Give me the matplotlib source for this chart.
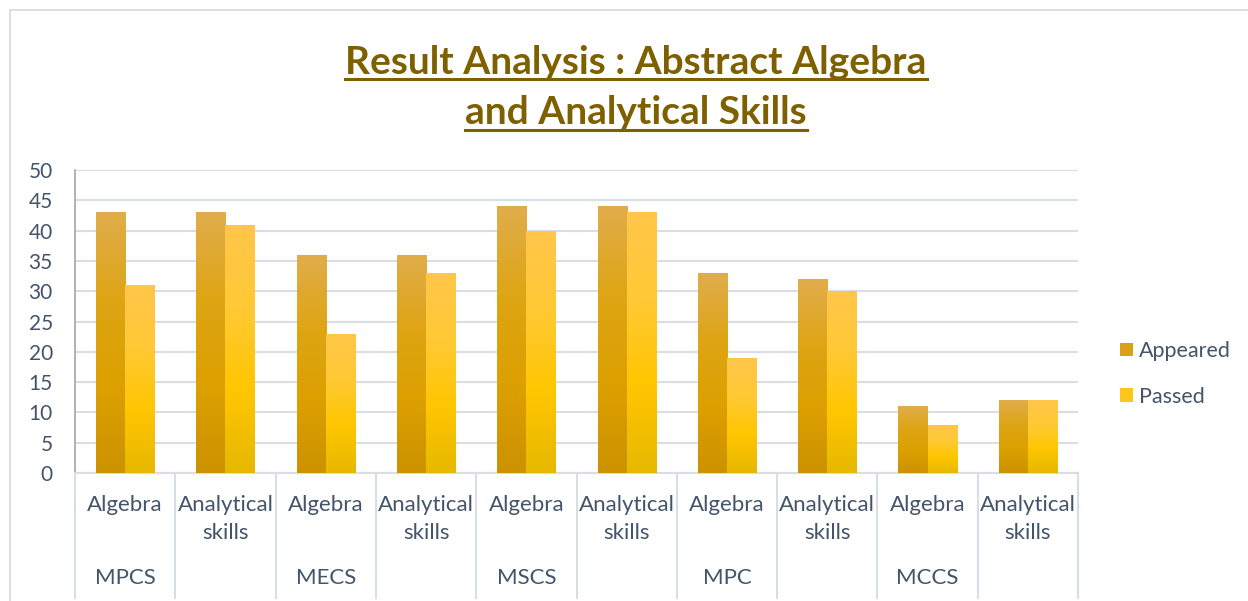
import numpy as np
import matplotlib
matplotlib.use("Agg")
import matplotlib.pyplot as plt
from matplotlib.colors import LinearSegmentedColormap
from matplotlib.patches import Patch, Rectangle
from matplotlib.lines import Line2D

# data
groups = ["MPCS", "MECS", "MSCS", "MPC", "MCCS"]
subjects = ["Algebra", "Analytical\nskills"]
appeared = [43, 43, 36, 36, 44, 44, 33, 32, 11, 12]
passed = [31, 41, 23, 33, 40, 43, 19, 30, 8, 12]
series = ["Appeared", "Passed"]

plt.rcParams['font.family'] = ['Lato', 'DejaVu Sans']
txt_col = "#44546A"
grid_col = "#D9DEE5"

fig = plt.figure(figsize=(12.48, 6.01), dpi=100)
W, H = 1248, 601
ax = fig.add_axes([75/W, 1 - 473/H, (1078-75)/W, (473-170)/H])

n = len(appeared)
x = np.arange(n)
bw = 0.29
cmaps = [
    LinearSegmentedColormap.from_list("app", ["#CC9200", "#DCA000", "#DEA515", "#E0AD4C"]),
    LinearSegmentedColormap.from_list("pas", ["#E6B800", "#FFC600", "#FFC935", "#FFC64A"]),
]
grad = np.linspace(0, 1, 256).reshape(-1, 1)
for k, vals in enumerate([appeared, passed]):
    bars = ax.bar(x + (k - 0.5) * bw, vals, bw, color="none", edgecolor="none", zorder=3)
    for b in bars:
        x0, y0 = b.get_x(), b.get_y()
        im = ax.imshow(grad, cmap=cmaps[k], aspect="auto", origin="lower",
                       extent=[x0, x0 + b.get_width(), y0, y0 + b.get_height()], zorder=3)
        im.set_clip_path(b)

ax.set_xlim(-0.5, n - 0.5)
ax.set_ylim(0, 50)
ax.set_yticks(range(0, 51, 5))
ax.tick_params(axis="y", length=0, pad=16, labelsize=15, labelcolor=txt_col)
ax.set_xticks([])
ax.grid(axis="y", color=grid_col, linewidth=1.5, zorder=0)
ax.set_axisbelow(True)
for s in ["top", "right"]:
    ax.spines[s].set_visible(False)
ax.spines["left"].set_color("#A6A6A6")
ax.spines["left"].set_linewidth(1.2)
ax.spines["bottom"].set_color(grid_col)
ax.spines["bottom"].set_linewidth(1.5)

# multi-level category axis
tr = ax.get_xaxis_transform()
for i in range(n + 1):
    ax.plot([i - 0.5, i - 0.5], [0, -0.413], transform=tr, color=grid_col,
            linewidth=1.5, clip_on=False)
for i in range(n):
    lines = subjects[i % 2].split("\n")
    for j, ln in enumerate(lines):
        ax.text(i, -0.106 - 0.093 * j, ln, transform=tr, ha="center", va="center",
                fontsize=16, color=txt_col)
for g, name in enumerate(groups):
    ax.text(2 * g, -0.347, name, transform=tr, ha="center", va="center",
            fontsize=16, color=txt_col)

# legend
handles = [Patch(facecolor="#DBA014", edgecolor="none"),
           Patch(facecolor="#FFC51A", edgecolor="none")]
fig.legend(handles, series, loc="center left", bbox_to_anchor=(1120/W, 1 - 374/H),
           frameon=False, fontsize=15.5, labelcolor=txt_col, handlelength=0.6,
           handleheight=0.6, handletextpad=0.3, labelspacing=1.2,
           borderpad=0, borderaxespad=0)

# title with underline
title_col = "#7F6000"
t1 = fig.text(636/W, 1 - 62/H, "Result Analysis : Abstract Algebra", ha="center",
              va="center", fontsize=28, fontweight="bold", color=title_col)
t2 = fig.text(636/W, 1 - 112/H, "and Analytical Skills", ha="center",
              va="center", fontsize=28, fontweight="bold", color=title_col)
fig.canvas.draw()
r = fig.canvas.get_renderer()
for t, uy in [(t1, 79), (t2, 130)]:
    bb = t.get_window_extent(r)
    fig.add_artist(Line2D([bb.x0 / W, bb.x1 / W], [1 - uy/H, 1 - uy/H],
                          color=title_col, linewidth=2.2))

# chart frame
fig.add_artist(Rectangle((10/W, -0.02), 1.0, 1 - 10/H + 0.02, transform=fig.transFigure,
                         facecolor="none", edgecolor="#D9D9D9", linewidth=1.2))

fig.savefig("out.png", dpi=100)
